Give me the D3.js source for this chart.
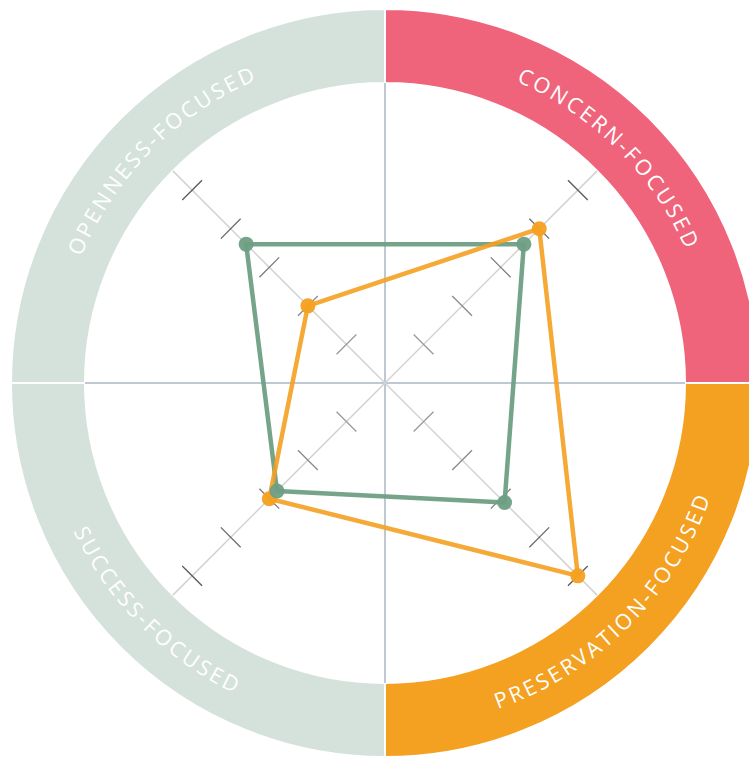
<!DOCTYPE html>
<html>
<head>
<meta charset="utf-8">
<script src="https://cdn.jsdelivr.net/npm/d3@7"></script>
<style>
	body { margin: 0; background: #fff; }
	svg { display: block; }
	.label { font-family: 'Open Sans', sans-serif; font-weight: 400; font-size: 21.5px; fill: #fff; letter-spacing: 2.8px; }
</style>
</head>
<body>
<div id="graph"></div>
<script>
// quadrants of the ring, clockwise from 12 o'clock
var segments = ['CONCERN-FOCUSED', 'PRESERVATION-FOCUSED', 'SUCCESS-FOCUSED', 'OPENNESS-FOCUSED']
var segmentColors = ['#ef647b', '#f4a021', '#d5e2db', '#d5e2db']

// the four diagonal axes
var axes = ['NE', 'SE', 'SW', 'NW']
var axisAngles = [45, 135, 225, 315]
var tickValues = [1, 2, 3, 4, 5]

var greenValues = [3.6, 3.1, 2.8, 3.6]
var orangeValues = [4.0, 5.0, 3.0, 2.0]

var width = 749, height = 758
var cx = 385, cy = 383
var rInner = 300, rOuter = 374

var svg = d3.select('#graph').append('svg')
	.attr('width', width)
	.attr('height', height)

var g = svg.append('g').attr('transform', 'translate(' + cx + ',' + cy + ')')

var r = d3.scaleLinear().domain([0, 5.5]).range([0, rInner])
var rad = d => d*Math.PI/180
var pt = (a, v) => [r(v)*Math.sin(rad(a)), -r(v)*Math.cos(rad(a))]

// ring
var arc = d3.arc().innerRadius(rInner).outerRadius(rOuter)
g.selectAll('path.seg').data(segments).join('path')
	.attr('class', 'seg')
	.attr('d', (d, i) => arc({startAngle: i*Math.PI/2, endAngle: (i + 1)*Math.PI/2}))
	.attr('fill', (d, i) => segmentColors[i])
	.attr('stroke', '#fff')
	.attr('stroke-width', 2)

// labels on the ring
var defs = svg.append('defs')
segments.forEach((s, i) => {
	var top = i == 0 || i == 3
	var p = d3.path()
	var a0 = i*Math.PI/2 - Math.PI/2, a1 = (i + 1)*Math.PI/2 - Math.PI/2
	var rt = top ? 329 : 345
	if (top){
		p.moveTo(cx + rt*Math.cos(a0), cy + rt*Math.sin(a0))
		p.arc(cx, cy, rt, a0, a1, false)
	} else {
		p.moveTo(cx + rt*Math.cos(a1), cy + rt*Math.sin(a1))
		p.arc(cx, cy, rt, a1, a0, true)
	}
	defs.append('path').attr('id', 'lp' + i).attr('d', p.toString())
	svg.append('text').attr('class', 'label')
		.append('textPath')
		.attr('href', '#lp' + i)
		.attr('startOffset', '50%')
		.attr('text-anchor', 'middle')
		.text(s)
})

// vertical and horizontal lines
g.append('line').attr('x1', 0).attr('x2', 0).attr('y1', -rInner).attr('y2', rInner)
	.attr('stroke', '#bfc9d3').attr('stroke-width', 2)
g.append('line').attr('y1', 0).attr('y2', 0).attr('x1', -rInner).attr('x2', rInner)
	.attr('stroke', '#bfc9d3').attr('stroke-width', 2)

// diagonal axes with ticks
var tickColor = d3.scaleLinear().domain([1, 5]).range(['#9a9a9a', '#5a5a5a'])
axisAngles.forEach(a => {
	var end = pt(a, 5.5)
	g.append('line').attr('x1', 0).attr('y1', 0).attr('x2', end[0]).attr('y2', end[1])
		.attr('stroke', '#d2d2d2').attr('stroke-width', 1.5)
	var h = 14
	var px = Math.cos(rad(a))*h, py = Math.sin(rad(a))*h
	g.selectAll(null).data(tickValues).join('line')
		.attr('x1', d => pt(a, d)[0] - px).attr('y1', d => pt(a, d)[1] - py)
		.attr('x2', d => pt(a, d)[0] + px).attr('y2', d => pt(a, d)[1] + py)
		.attr('stroke', d => tickColor(d))
		.attr('stroke-width', 1.3)
})

// series
function drawSeries(values, color, opacity){
	var pts = values.map((v, i) => pt(axisAngles[i], v))
	g.append('path')
		.attr('d', d3.line()(pts) + 'Z')
		.attr('fill', 'none')
		.attr('stroke', color)
		.attr('stroke-opacity', opacity)
		.attr('stroke-width', 4.5)
		.attr('stroke-linejoin', 'round')
	return pts
}
var gp = drawSeries(greenValues, '#6e9f85', 0.95)
var op = drawSeries(orangeValues, '#f4a021', 0.9)

g.selectAll('circle.o').data(op).join('circle').attr('class', 'o')
	.attr('cx', d => d[0]).attr('cy', d => d[1]).attr('r', 7.5)
	.attr('fill', '#f4a021').attr('fill-opacity', 0.95)
g.selectAll('circle.g').data(gp).join('circle').attr('class', 'g')
	.attr('cx', d => d[0]).attr('cy', d => d[1]).attr('r', 7.5)
	.attr('fill', '#6e9f85').attr('fill-opacity', 0.95)
</script>
</body>
</html>
